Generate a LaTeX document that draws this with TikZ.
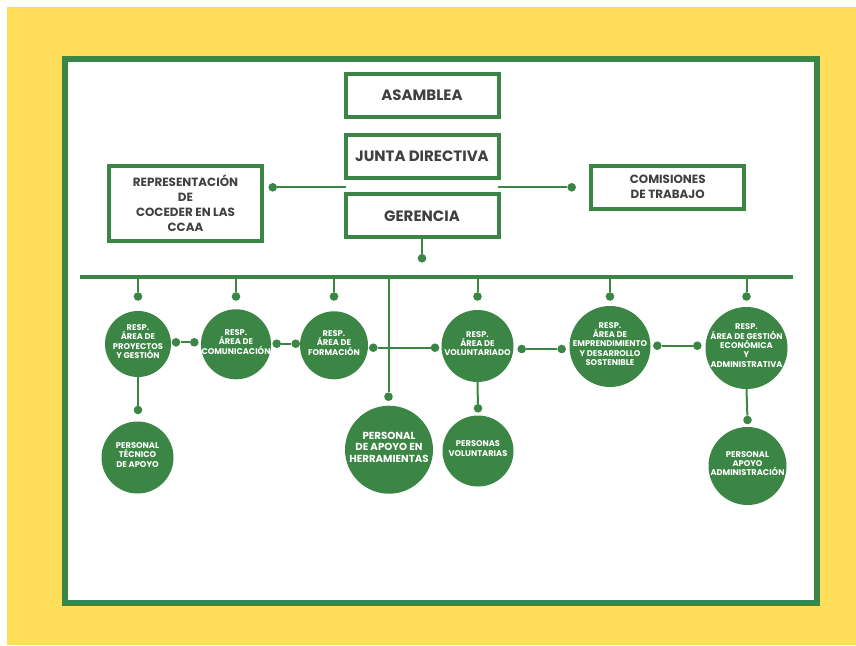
\documentclass[tikz,border=0pt]{standalone}
\usepackage{fontspec}
\setmainfont{Poppins}
\usepackage{tikz}

\definecolor{verde}{RGB}{59,134,69}
\definecolor{amarillo}{RGB}{255,222,89}
\definecolor{gris}{RGB}{64,64,64}

\begin{document}
\begin{tikzpicture}[x=1pt, y=-1pt,
    caja/.style={draw=verde, line width=4pt, fill=white, text=gris, align=center, inner sep=0pt,
        minimum width=153pt, minimum height=43pt, font=\bfseries\fontsize{15}{17}\selectfont},
    cajita/.style={caja, font=\bfseries\fontsize{11.9}{15}\selectfont},
    bola/.style={circle, fill=verde, inner sep=0pt},
    punto/.style={circle, fill=verde, minimum size=8.6pt, inner sep=0pt},
    rotulo/.style={text=white, align=center, inner sep=0pt, yshift=2.5pt,
        font=\bfseries\fontsize{8.3}{9.3}\selectfont},
    enlace/.style={verde, line width=2pt}]
    \useasboundingbox (0,0) rectangle (856,645);
    \fill[amarillo] (7,7) rectangle (856,645);
    \draw[verde, line width=6pt, fill=white] (65,59) rectangle (817,603);

    % organos de gobierno
    \node[caja] (asamblea) at (422,95.5) {ASAMBLEA};
    \node[caja] (junta) at (422,156.7) {JUNTA DIRECTIVA};
    \node[caja] (gerencia) at (422,215.8) {GERENCIA};
    \node[cajita, minimum height=75.5pt] (repr) at (185.5,203.3) {REPRESENTACIÓN\\DE\\COCEDER EN LAS\\CCAA};
    \node[cajita, minimum height=43.5pt] (comis) at (667.7,187.3) {COMISIONES\\DE TRABAJO};

    \coordinate (jgIzq) at (346,187.3);
    \coordinate (jgDer) at (497.7,187.3);
    \node[punto] (pRepr) at (272.7,187.3) {};
    \node[punto] (pComis) at (571.7,187.3) {};
    \draw[enlace] (pRepr) -- (jgIzq);
    \draw[enlace] (jgDer) -- (pComis);
    \node[punto] (pGer) at (422,258.3) {};
    \draw[enlace] (gerencia.south) -- (pGer);

    \coordinate (barIzq) at (80,277);
    \coordinate (barDer) at (793,277);
    \coordinate (filaP) at (0,296.5);
    \draw[verde, line width=4pt] (barIzq) -- (barDer);

    % responsables de area
    \node[bola, minimum size=66pt] (proy) at (138,344) {};
    \node[bola, minimum size=70pt] (comu) at (236,344.3) {};
    \node[bola, minimum size=68pt] (form) at (334,345.3) {};
    \node[bola, minimum size=72pt] (volu) at (477.5,346) {};
    \node[bola, minimum size=81pt] (empr) at (610,346.5) {};
    \node[bola, minimum size=82pt] (gest) at (746.5,348) {};
    \foreach \c in {proy,comu,form,volu,empr,gest} {
        \node[punto] (p\c) at (\c |- filaP) {};
        \draw[enlace] (\c |- barIzq) -- (p\c);
    }
    \foreach \xa/\xb/\yy [count=\i] in {176/194.3/342.3, 276.7/295.7/343.7, 373.3/435/347.7, 521.7/561.7/349, 657.3/697.3/345.7} {
        \node[punto] (ia\i) at (\xa,\yy) {};
        \node[punto] (ib\i) at (\xb,\yy) {};
        \draw[enlace] (ia\i) -- (ib\i);
    }

    \node[rotulo] at (proy) {RESP.\\ÁREA DE\\PROYECTOS\\Y GESTIÓN};
    \node[rotulo] at (comu) {RESP.\\ÁREA DE\\COMUNICACIÓN};
    \node[rotulo] at (form) {RESP.\\ÁREA DE\\FORMACIÓN};
    \node[rotulo] at (volu) {RESP.\\ÁREA DE\\VOLUNTARIADO};
    \node[rotulo] at (empr) {RESP.\\ÁREA DE\\EMPRENDIMIENTO\\Y DESARROLLO\\SOSTENIBLE};
    \node[rotulo] at (gest) {RESP.\\ÁREA DE GESTIÓN\\ECONÓMICA\\Y\\ADMINISTRATIVA};

    % personal
    \node[punto] (pHerr) at (388.5,396.7) {};
    \draw[enlace] (pHerr |- barIzq) -- (pHerr);
    \node[bola, minimum size=88pt] (herr) at (389,449.7) {};
    \node[rotulo, font=\bfseries\fontsize{10.2}{11.5}\selectfont] at (herr) {PERSONAL\\DE APOYO EN\\HERRAMIENTAS};

    \node[punto] (pTec) at (138,410) {};
    \draw[enlace] (proy.south) -- (pTec);
    \node[bola, minimum size=72pt] (tec) at (137.5,457.5) {};
    \node[rotulo] at (tec) {PERSONAL\\TÉCNICO\\DE APOYO};

    \node[punto] (pVol) at (478,408.3) {};
    \draw[enlace] (volu.south) -- (pVol);
    \node[bola, minimum size=71pt] (vol) at (478,451) {};
    \node[rotulo] at (vol) {PERSONAS\\VOLUNTARIAS};

    \node[punto] (pAdm) at (747.5,420) {};
    \draw[enlace] (gest.south) -- (pAdm);
    \node[bola, minimum size=78pt] (adm) at (747.5,466) {};
    \node[rotulo] at (adm) {PERSONAL\\APOYO\\ADMINISTRACIÓN};
\end{tikzpicture}
\end{document}
